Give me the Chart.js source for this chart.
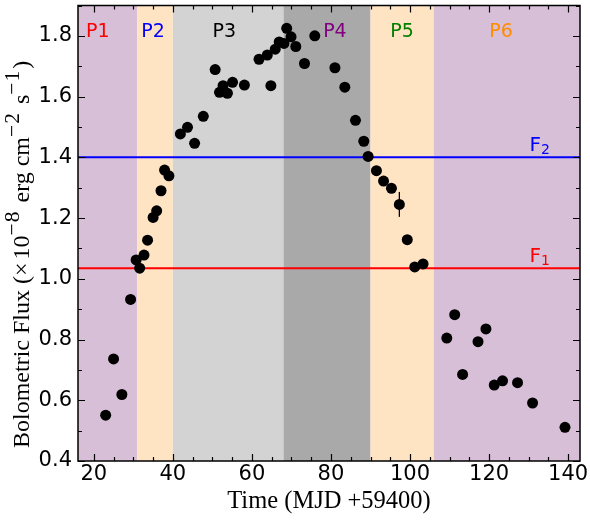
<!DOCTYPE html>
<html>
<head>
<meta charset="utf-8">
<script src="https://cdn.jsdelivr.net/npm/chart.js@4.4.1/dist/chart.umd.min.js"></script>
<style>
  html, body { margin: 0; padding: 0; background: #fff; }
  #wrap { width: 590px; height: 521px; }
</style>
</head>
<body>
<div id="wrap"><canvas id="fluxChart" width="590" height="521"></canvas></div>
<script>
// light curve: time (MJD - 59400) and bolometric flux (1e-8 erg/cm2/s)
const mjd = [23.0, 25.0, 27.1, 29.3, 30.7, 31.6, 32.7, 33.6, 35.0, 35.9,
             37.0, 37.9, 39.0, 41.9, 43.7, 45.5, 47.7, 50.7, 51.8, 52.7,
             53.8, 55.1, 58.1, 61.8, 63.9, 64.8, 65.9, 66.9, 68.1, 68.8,
             69.9, 71.1, 73.3, 75.9, 81.0, 83.5, 86.2, 88.3, 89.4, 91.5,
             93.3, 95.3, 97.3, 99.3, 101.2, 103.3, 109.3, 111.3, 113.3, 117.2,
             119.2, 121.3, 123.4, 127.2, 131.0, 139.2];
const flux = [0.551, 0.736, 0.619, 0.932, 1.062, 1.035, 1.078, 1.127, 1.202, 1.224,
              1.290, 1.358, 1.339, 1.477, 1.499, 1.446, 1.535, 1.689, 1.614, 1.636,
              1.611, 1.647, 1.638, 1.723, 1.737, 1.636, 1.756, 1.780, 1.775, 1.825,
              1.797, 1.765, 1.709, 1.800, 1.695, 1.631, 1.522, 1.453, 1.403, 1.356,
              1.322, 1.298, 1.245, 1.129, 1.039, 1.049, 0.805, 0.882, 0.685, 0.793,
              0.835, 0.650, 0.664, 0.658, 0.591, 0.511];
const fluxErr = [0.01, 0.01, 0.01, 0.01, 0.01, 0.01, 0.01, 0.01, 0.01, 0.01,
                 0.01, 0.01, 0.01, 0.01, 0.01, 0.01, 0.01, 0.01, 0.01, 0.01,
                 0.01, 0.01, 0.01, 0.01, 0.01, 0.01, 0.01, 0.01, 0.01, 0.01,
                 0.01, 0.01, 0.01, 0.01, 0.01, 0.01, 0.01, 0.01, 0.01, 0.01,
                 0.01, 0.01, 0.041, 0.01, 0.01, 0.01, 0.01, 0.01, 0.01, 0.01,
                 0.01, 0.01, 0.01, 0.01, 0.01, 0.015];

// outburst phases
const phaseNames = ['P1', 'P2', 'P3', 'P4', 'P5', 'P6'];
const phaseEdges = [16, 31, 40, 68, 90, 106, 143];
const phaseTextX = [21, 35, 53, 81, 98, 123];

// flux levels F1, F2
const levelNames = ['1', '2'];
const levelFlux = [1.035, 1.40];

const xTicks = [20, 40, 60, 80, 100, 120, 140];
const yTicks = [0.4, 0.6, 0.8, 1.0, 1.2, 1.4, 1.6, 1.8];

const phaseFill = ['#d8bfd8', '#ffe4c4', '#d3d3d3', '#a9a9a9', '#ffe4c4', '#d8bfd8'];
const phaseInk = ['#ff0000', '#0000ff', '#000000', '#800080', '#008000', '#ff8c00'];
const levelInk = ['#ff0000', '#0000ff'];

const SANS = '"DejaVu Sans", sans-serif';
const SERIF = '"Liberation Serif", "Times New Roman", serif';

// draws a run of text pieces; shifted pieces are smaller and raised/lowered
function drawPieces(ctx, pieces, x, y, size, small) {
    let cx = x;
    pieces.forEach(p => {
        const s = p.shift ? size * small : size;
        ctx.font = `${s}px ${p.font || SERIF}`;
        cx += p.pre || 0;
        ctx.fillText(p.t, cx, y - (p.shift || 0));
        cx += ctx.measureText(p.t).width + (p.post || 0);
    });
    return cx - x;
}

const phasePlugin = {
    id: 'phases',
    beforeDatasetsDraw(chart) {
        const { ctx, chartArea: a, scales: { x } } = chart;
        ctx.save();
        for (let i = 0; i < phaseNames.length; i++) {
            const x0 = x.getPixelForValue(phaseEdges[i]);
            const x1 = x.getPixelForValue(phaseEdges[i + 1]);
            ctx.fillStyle = phaseFill[i];
            ctx.fillRect(x0, a.top, x1 - x0, a.bottom - a.top);
        }
        ctx.font = `19px ${SANS}`;
        ctx.textAlign = 'center';
        ctx.textBaseline = 'alphabetic';
        phaseNames.forEach((n, i) => {
            ctx.fillStyle = phaseInk[i];
            ctx.fillText(n, x.getPixelForValue(phaseTextX[i]), a.top + 31);
        });
        ctx.restore();
    },
    afterDatasetsDraw(chart) {
        const { ctx, chartArea: a, scales: { x, y } } = chart;
        ctx.save();
        // error bars
        ctx.strokeStyle = '#000';
        ctx.lineWidth = 1.3;
        mjd.forEach((t, i) => {
            const px = x.getPixelForValue(t);
            ctx.beginPath();
            ctx.moveTo(px, y.getPixelForValue(flux[i] - fluxErr[i]));
            ctx.lineTo(px, y.getPixelForValue(flux[i] + fluxErr[i]));
            ctx.stroke();
        });

        // F labels above the level lines
        ctx.textAlign = 'left';
        ctx.textBaseline = 'alphabetic';
        levelFlux.forEach((f, i) => {
            ctx.fillStyle = levelInk[i];
            const px = x.getPixelForValue(130.2);
            const py = y.getPixelForValue(f) - 6;
            drawPieces(ctx, [{ t: 'F', font: SANS }, { t: levelNames[i], font: SANS, shift: -3 }], px, py, 20, 0.7);
        });

        // frame and inward ticks on all four sides
        ctx.strokeStyle = '#000';
        ctx.lineWidth = 1.2;
        for (let v = 20; v <= 140; v += 5) {
            const px = Math.round(x.getPixelForValue(v)) + 0.5;
            const len = v % 20 === 0 ? 7 : 4;
            ctx.beginPath();
            ctx.moveTo(px, a.bottom); ctx.lineTo(px, a.bottom - len);
            ctx.moveTo(px, a.top); ctx.lineTo(px, a.top + len);
            ctx.stroke();
        }
        for (let k = 4; k <= 19; k++) {
            const py = Math.round(y.getPixelForValue(k / 10)) + 0.5;
            const len = k % 2 === 0 ? 7 : 4;
            ctx.beginPath();
            ctx.moveTo(a.left, py); ctx.lineTo(a.left + len, py);
            ctx.moveTo(a.right, py); ctx.lineTo(a.right - len, py);
            ctx.stroke();
        }
        ctx.lineWidth = 1.5;
        ctx.strokeRect(a.left, a.top, a.right - a.left, a.bottom - a.top);

        // axis titles
        ctx.fillStyle = '#000';
        ctx.font = `24.5px ${SERIF}`;
        ctx.textAlign = 'center';
        ctx.fillText('Time (MJD +59400)', (a.left + a.right) / 2, 508);

        const yTitle = [
            { t: 'Bolometric Flux (' },
            { t: '×', post: 3 }, { t: '10' },
            { t: '−', shift: 10, post: 1 }, { t: '8', shift: 10, post: 3 },
            { t: ' erg cm' },
            { t: '−', shift: 10, post: 1 }, { t: '2', shift: 10, post: 3 },
            { t: ' s' },
            { t: '−', shift: 10, post: 1 }, { t: '1', shift: 10, post: 2 },
            { t: ')' }
        ];
        ctx.textAlign = 'left';
        ctx.translate(28.5, 448);
        ctx.rotate(-Math.PI / 2);
        drawPieces(ctx, yTitle, 0, 0, 24, 0.9);
        ctx.restore();
    }
};

const points = mjd.map((t, i) => ({ x: t, y: flux[i] }));
const levelLines = levelFlux.map((f, i) => ({
    type: 'line',
    data: [{ x: phaseEdges[0], y: f }, { x: phaseEdges[phaseEdges.length - 1], y: f }],
    borderColor: levelInk[i],
    borderWidth: 2,
    pointRadius: 0,
    order: 2
}));

new Chart(document.getElementById('fluxChart'), {
    type: 'scatter',
    data: {
        datasets: [{
            data: points,
            backgroundColor: '#000',
            borderWidth: 0,
            pointRadius: 5.5,
            order: 0
        }, ...levelLines]
    },
    options: {
        responsive: false,
        animation: false,
        layout: { padding: { left: 0, right: 10, top: 2, bottom: 0 } },
        plugins: { legend: { display: false }, tooltip: { enabled: false } },
        scales: {
            x: {
                type: 'linear',
                min: 16, max: 143,
                grid: { display: false, drawTicks: false },
                border: { display: false },
                afterBuildTicks: s => { s.ticks = xTicks.map(v => ({ value: v })); },
                afterFit: s => { s.height = 60; s.paddingLeft = 0; s.paddingRight = 0; },
                ticks: { color: '#000', font: { family: SANS, size: 21 }, padding: 1, maxRotation: 0,
                         callback: v => String(v) }
            },
            y: {
                min: 0.4, max: 1.9,
                grid: { display: false, drawTicks: false },
                border: { display: false },
                afterBuildTicks: s => { s.ticks = yTicks.map(v => ({ value: v })); },
                afterFit: s => { s.width = 78; s.paddingTop = 0; s.paddingBottom = 0; },
                ticks: { color: '#000', font: { family: SANS, size: 21 }, padding: 6,
                         callback: v => v.toFixed(1) }
            }
        }
    },
    plugins: [phasePlugin]
});
</script>
</body>
</html>
